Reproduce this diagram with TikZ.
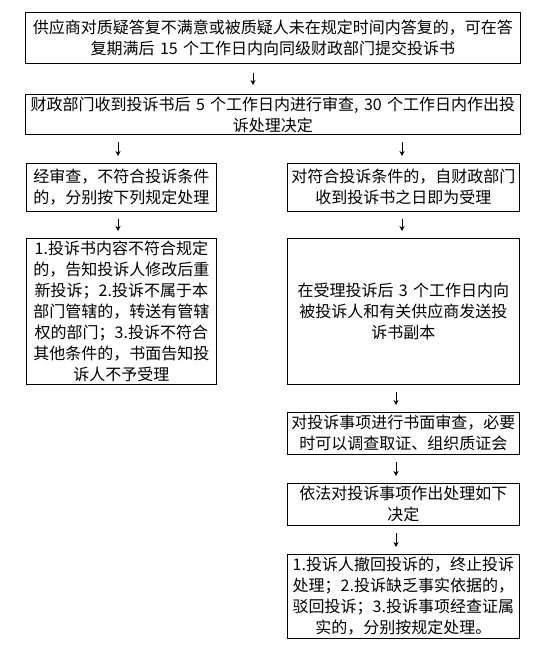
\documentclass[tikz,border=0pt]{standalone}
\usepackage{fontspec}
\newfontfamily\cjk{Noto Sans CJK SC}
\usetikzlibrary{arrows.meta}

\begin{document}
\begin{tikzpicture}[x=1pt, y=-1pt]
  \tikzstyle{proc}=[rectangle, draw, line width=0.8pt, anchor=north west, align=center, inner xsep=4pt, inner ysep=1pt, font={\cjk\fontsize{16pt}{21pt}\selectfont}]
  \tikzstyle{wide}=[proc, text width=487pt]
  \tikzstyle{lhalf}=[proc, text width=182pt]
  \tikzstyle{rhalf}=[proc, text width=224pt]
  \tikzstyle{flow}=[-{Stealth[length=5pt,width=5pt]}, line width=0.8pt, shorten <=7pt, shorten >=7pt]
  \useasboundingbox (0,0) rectangle (541,650);
  % columns of the arrows
  \coordinate (mid)  at (253,0);
  \coordinate (lcol) at (118,0);
  \coordinate (rcol) at (402,0);
  \coordinate (rlow) at (396,0);
  \node [wide, minimum height=51pt] at (25,12) (submit) {供应商对质疑答复不满意或被质疑人未在规定时间内答复的，可在答\\复期满后~15~个工作日内向同级财政部门提交投诉书};
  \node [wide, minimum height=40pt] at (25,94) (review) {财政部门收到投诉书后~5~个工作日内进行审查,~30~个工作日内作出投\\诉处理决定};
  \node [lhalf, minimum height=48pt] at (26,163) (reject) {经审查，不符合投诉条件\\的，分别按下列规定处理};
  \node [lhalf, minimum height=146pt] at (26,238) (rules) {1.投诉书内容不符合规定\\的，告知投诉人修改后重\\新投诉；2.投诉不属于本\\部门管辖的，转送有管辖\\权的部门；3.投诉不符合\\其他条件的，书面告知投\\诉人不予受理};
  \node [rhalf, minimum height=48pt] at (287,163) (accept) {对符合投诉条件的，自财政部门\\收到投诉书之日即为受理};
  \node [rhalf, minimum height=146pt] at (287,238) (copy) {在受理投诉后~3~个工作日内向\\被投诉人和有关供应商发送投\\诉书副本};
  \node [rhalf, minimum height=42pt] at (287,412) (check) {对投诉事项进行书面审查，必要\\时可以调查取证、组织质证会};
  \node [rhalf, minimum height=42pt] at (287,483) (decide) {依法对投诉事项作出处理如下\\决定};
  \node [rhalf, minimum height=84pt] at (287,554) (result) {1.投诉人撤回投诉的，终止投诉\\处理；2.投诉缺乏事实依据的，\\驳回投诉；3.投诉事项经查证属\\实的，分别按规定处理。};
  \draw[flow, shorten <=9pt, shorten >=9pt] (submit.south -| mid) -- (review.north -| mid);
  \draw[flow] (review.south -| lcol) -- (reject.north -| lcol);
  \draw[flow] (reject.south -| lcol) -- (rules.north -| lcol);
  \draw[flow] (review.south -| rcol) -- (accept.north -| rcol);
  \draw[flow] (accept.south -| rcol) -- (copy.north -| rcol);
  \draw[flow] (copy.south -| rlow) -- (check.north -| rlow);
  \draw[flow] (check.south -| rlow) -- (decide.north -| rlow);
  \draw[flow] (decide.south -| rlow) -- (result.north -| rlow);
\end{tikzpicture}
\end{document}
